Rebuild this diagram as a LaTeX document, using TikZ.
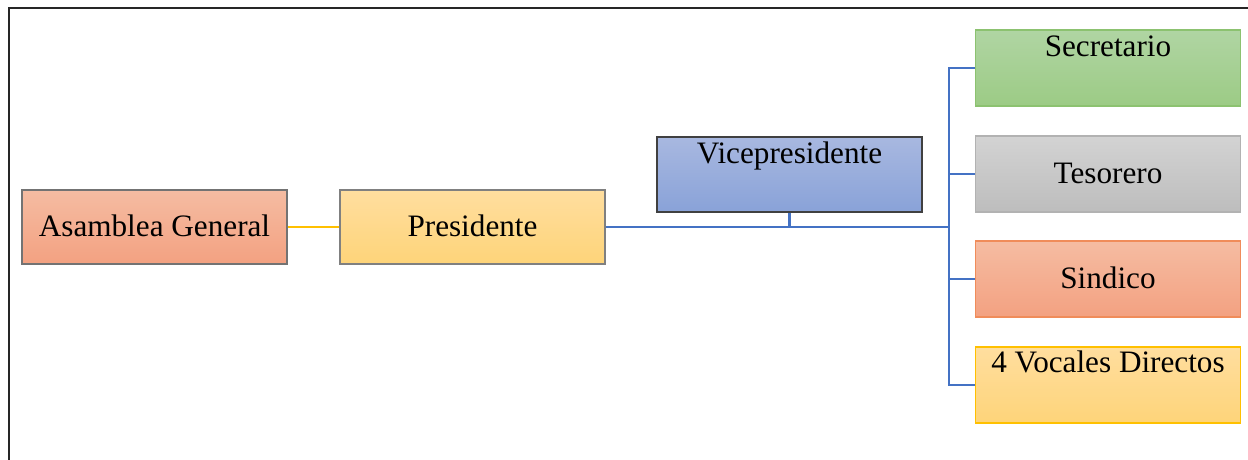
\documentclass[tikz,border=0pt]{standalone}
\usepackage{fontspec}
\setmainfont{Liberation Serif}
\definecolor{lnblue}{HTML}{4472C4}
\definecolor{lnyellow}{HTML}{FFC000}
\definecolor{sinBorder}{HTML}{F08C5A}
\definecolor{grnBorder}{HTML}{8CC270}
\tikzset{
  box/.style={rectangle, inner sep=0pt, line width=0.6pt, minimum width=132.5pt,
    font=\fontsize{15.6}{18}\selectfont, text=black},
  mid/.style={text height=23pt, text depth=14pt, minimum height=37pt},
  top/.style={text height=13pt, text depth=24.5pt, minimum height=37.5pt},
  salmon/.style={top color=salmonT, bottom color=salmonB},
  conn/.style={line width=1.4pt, lnblue},
}
\definecolor{salmonT}{HTML}{F5BCA2}
\definecolor{salmonB}{HTML}{F3A181}
\definecolor{yelT}{HTML}{FFDE9F}
\definecolor{yelB}{HTML}{FED479}
\definecolor{bluT}{HTML}{A8B8E0}
\definecolor{bluB}{HTML}{89A2D8}
\definecolor{grnT}{HTML}{B0D5A3}
\definecolor{grnB}{HTML}{9CCB85}
\definecolor{gryT}{HTML}{D3D3D3}
\definecolor{gryB}{HTML}{BDBDBD}
\begin{document}
\begin{tikzpicture}[x=0.5pt,y=-0.5pt]
\useasboundingbox (0,0) rectangle (1248,460);
% frame
\draw[line width=1pt, black!85] (9,462) -- (9,8) -- (1250,8);
% nodes
\node[box, mid, salmon, draw=black!55] (asm) at (154.5,227) {Asamblea General};
\node[box, mid, top color=yelT, bottom color=yelB, draw=black!50] (pres) at (472.5,227) {Presidente};
\node[box, top, top color=bluT, bottom color=bluB, draw=black!75] (vice) at (789.5,174.5) {Vicepresidente};
\node[box, top, minimum height=38pt, top color=grnT, bottom color=grnB, draw=grnBorder] (sec) at (1108,68) {Secretario};
\node[box, mid, minimum height=38pt, text height=23.65pt, text depth=14.35pt, top color=gryT, bottom color=gryB, draw=black!30] (tes) at (1108,174) {Tesorero};
\node[box, mid, minimum height=38pt, text height=23.65pt, text depth=14.35pt, salmon, draw=sinBorder] (sin) at (1108,279) {Sindico};
\node[box, top, minimum height=38pt, text height=12.85pt, text depth=25.15pt, top color=yelT, bottom color=yelB, draw=lnyellow] (voc) at (1108,385) {4 Vocales Directos};
% connectors
\coordinate (j) at (949,227);
\draw[line width=1.1pt, lnyellow] (asm) -- (pres);
\draw[conn] (pres.east) -- (j);
\draw[conn] (vice.south) -- (vice.south |- j);
\draw[conn] (j) |- (sec.west);
\draw[conn] (j) |- (tes.west);
\draw[conn] (j) |- (sin.west);
\draw[conn] (j) |- (voc.west);
\end{tikzpicture}
\end{document}
